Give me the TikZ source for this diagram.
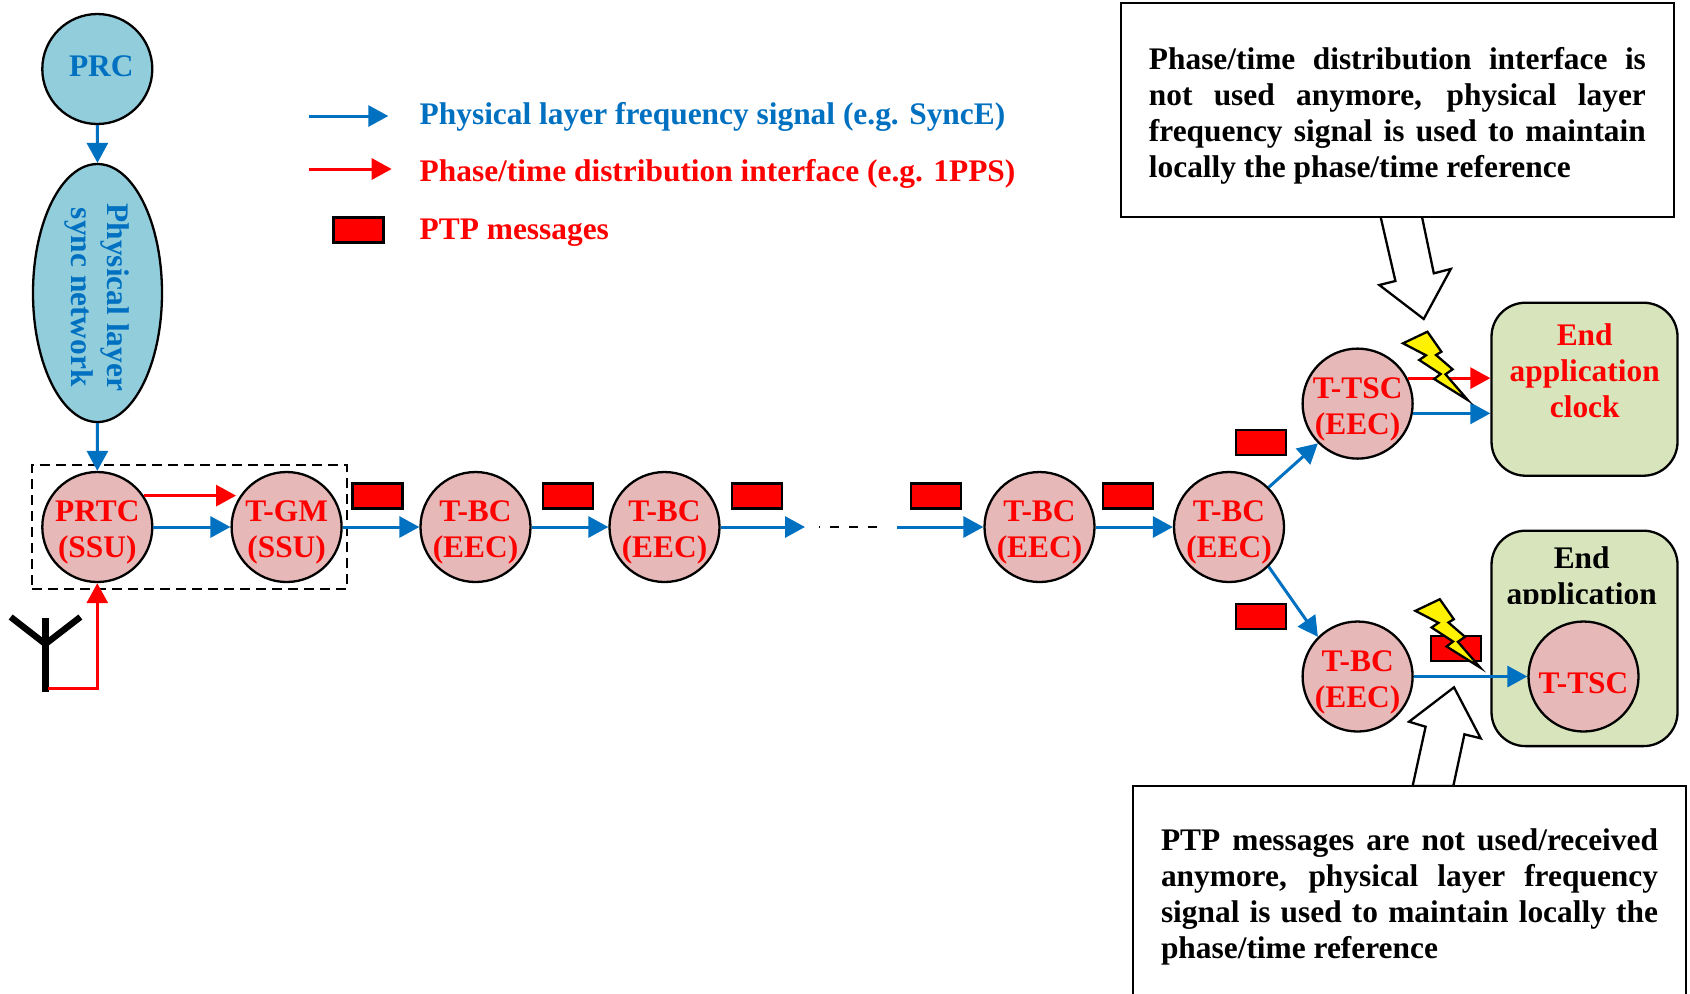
\documentclass[tikz,border=0pt]{standalone}
\usepackage{fontspec}
\setmainfont{Liberation Serif}
\usepackage{tikz}
\usetikzlibrary{arrows.meta,shapes.geometric}

\definecolor{sigblue}{HTML}{0070C0}
\definecolor{clockpink}{HTML}{E6B8B7}
\definecolor{netfill}{HTML}{92CDDC}
\definecolor{endgreen}{HTML}{D7E4BC}

\tikzset{
  >={Triangle[length=10pt,width=10.5pt]},
  freq/.style={draw=sigblue,line width=1.5pt,->},
  phase/.style={draw=red,line width=1.5pt,->},
  lab/.style={font=\fontsize{15.7}{18}\selectfont\bfseries},
  clock/.style={lab,circle,draw,line width=1.15pt,fill=clockpink,text=red,minimum size=55pt,inner sep=-6pt,align=center},
  clocktwo/.style={clock,execute at begin node={\rule{0pt}{34pt}}},
  msg/.style={draw,line width=1.15pt,fill=red,minimum width=25pt,minimum height=12.5pt,inner sep=0pt},
  endbox/.style={draw,line width=1.15pt,fill=endgreen,rounded corners=17pt,minimum width=93pt},
  note/.style={lab,draw,line width=1.15pt,fill=white,text width=248.5pt,align=justify,inner xsep=14pt,inner ysep=0pt},
  hollow/.style={draw,line width=1.15pt,fill=white,line join=miter},
  bolt/.style={draw,line width=1.15pt,fill=yellow,line join=miter}
}

\begin{document}
\begin{tikzpicture}[x=0.5pt,y=-0.5pt]
  \path[use as bounding box,clip] (0,0) rectangle (1690,993);

  \node[lab,circle,draw,line width=1.15pt,fill=netfill,text=sigblue,minimum size=55pt,inner sep=0pt] (prc) at (97.3,69) {\rule[-3pt]{0pt}{3pt}\hspace*{4pt}PRC};
  \node[lab,ellipse,draw,line width=1.15pt,fill=netfill,text=sigblue,rotate=-90,align=center,minimum width=129pt,minimum height=64.5pt,inner sep=-4pt] (net) at (97.5,293) {\hspace*{4.3pt}Physical layer\\\hspace*{4.3pt}sync network};

  \node[clocktwo] (prtc) at (97.3,527) {PRTC\\(SSU)};
  \node[clocktwo] (tgm) at (286.6,527) {T-GM\\(SSU)};
  \node[clocktwo] (tbca) at (475.5,527) {T-BC\\(EEC)};
  \node[clocktwo] (tbcb) at (664.5,527) {T-BC\\(EEC)};
  \node[clocktwo] (tbcc) at (1039.5,527) {T-BC\\(EEC)};
  \node[clocktwo] (tbcd) at (1229,527) {T-BC\\(EEC)};
  \node[clocktwo] (ttsc) at (1357.6,403.6) {T-TSC\\(EEC)};
  \node[clocktwo] (tbce) at (1357.6,676.5) {T-BC\\(EEC)};

  \node[draw,dashed,dash pattern=on 5pt off 3pt,line width=1pt,minimum width=157.5pt,minimum height=62pt,inner sep=0pt] (gmbox) at (189.5,527) {};

  \node[endbox,minimum height=86.5pt] (enda) at (1584.5,389.2) {};
  \node[endbox,minimum height=107.7pt] (endb) at (1584.5,638.4) {};
  \node[lab,text=red,align=center] (endatxt) at (1584.7,371) {End\\application\\clock};
  \node[lab,align=center] (endbtxt) at (1581.7,579) {End\\application};
  \fill[endgreen] (1510,604) rectangle (1655,630);
  \node[clock,execute at begin node={\rule{0pt}{17.2pt}}] (ttsci) at (1583.5,676.5) {T-TSC};

  \node[msg] (msga) at (377.5,496) {};
  \node[msg] (msgb) at (568,496) {};
  \node[msg] (msgc) at (757,496) {};
  \node[msg] (msgd) at (936,496) {};
  \node[msg] (msge) at (1128,496) {};
  \node[msg] (msgf) at (1261,442.3) {};
  \node[msg] (msgg) at (1261,616.7) {};
  \node[msg] (msgh) at (1456,648.3) {};

  \draw[freq] (prc.south) -- (net.west);
  \draw[freq] (net.east) -- (prtc.north);
  \draw[freq] (prtc.east) -- (tgm.west);
  \draw[freq] (tgm.east) -- (tbca.west);
  \draw[freq] (tbca.east) -- (tbcb.west);
  \coordinate (gapa) at (805,527);
  \coordinate (gapb) at (819,527);
  \coordinate (gapc) at (877,527);
  \coordinate (gapd) at (897,527);
  \draw[freq] (tbcb.east) -- (gapa);
  \draw[line width=1pt,dash pattern=on 4.5pt off 5pt,dash phase=4pt] (gapb) -- (gapc);
  \draw[freq] (gapd) -- (tbcc.west);
  \draw[freq] (tbcc.east) -- (tbcd.west);
  \draw[freq] (tbcd.45) -- (ttsc.225);
  \draw[freq] (tbcd.-45) -- (tbce.135);
  \draw[freq] (ttsc.-10) -- (ttsc.-10 -| enda.west);
  \draw[freq] (tbce.east) -- (ttsci.west);
  \draw[phase,shorten >=2pt] (prtc.34) -- (tgm.146);
  \draw[phase] (ttsc.27) -- (ttsc.27 -| enda.west);

  \draw[line width=3.2pt,line cap=butt] (45.4,617.7) -- (45.4,691.7);
  \draw[line width=3.2pt] (10.7,617) -- (45.4,644) -- (80.4,617);
  \coordinate (ant) at (48,688);
  \draw[phase] (ant) -| (prtc.south);

  \draw[hollow] (1380.4,216) -- (1395.4,281) -- (1379.3,285) -- (1423.7,319) -- (1450.8,269) -- (1433.8,273.3) -- (1421.8,216) -- cycle;
  \draw[hollow] (1454,687.3) -- (1409,721.7) -- (1425.6,726.7) -- (1412.6,786) -- (1453.3,786) -- (1464.4,734.3) -- (1480.7,738.3) -- cycle;

  \foreach \boltx/\bolty in {0/0,12.4/267.5}
    \draw[bolt,shift={(\boltx,\bolty)}] (1403,343.3) -- (1427.4,331.7) -- (1441.4,351.7) -- (1436,355) -- (1452.6,369.3) -- (1445.5,374.3) -- (1467.7,400) -- (1434.2,379) -- (1440.6,374) -- (1419.2,360) -- (1426,355.3) -- cycle;

  \node[note,minimum height=106.7pt] (notea) at (1397.4,110) {\rule{0pt}{16.5pt}Phase/time distribution interface is\linebreak not used anymore, physical layer\linebreak frequency signal is used to maintain\linebreak locally the phase/time reference};
  \node[note,minimum height=110pt] (noteb) at (1409.5,895.7) {\rule{0pt}{12pt}PTP messages are not used/received\linebreak anymore, physical layer frequency\linebreak signal is used to maintain locally the\linebreak phase/time reference};

  \coordinate (lega) at (308.7,116);
  \coordinate (legb) at (388.3,116);
  \coordinate (legc) at (308.7,169);
  \coordinate (legd) at (391.7,169);
  \draw[freq] (lega) -- (legb);
  \draw[phase] (legc) -- (legd);
  \node[msg] (legmsg) at (358.5,230) {};
  \node[lab,text=sigblue,anchor=base west,inner sep=0pt] (txta) at (419.3,124) {Physical layer frequency signal (e.g. SyncE)};
  \node[lab,text=red,anchor=base west,inner sep=0pt] (txtb) at (419.3,181) {Phase/time distribution interface (e.g. 1PPS)};
  \node[lab,text=red,anchor=base west,inner sep=0pt] (txtc) at (419.3,239) {PTP messages};
\end{tikzpicture}
\end{document}
